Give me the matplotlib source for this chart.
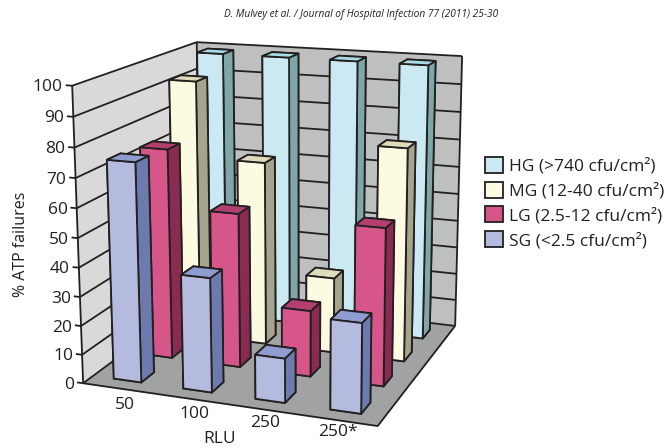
import numpy as np
import matplotlib as mpl
mpl.use('Agg')
import matplotlib.pyplot as plt
from matplotlib.patches import Patch
from mpl_toolkits.mplot3d import proj3d
from mpl_toolkits.mplot3d.art3d import Poly3DCollection, Line3DCollection

plt.rcParams['font.family'] = ['Open Sans', 'DejaVu Sans']

# values
categories = ['50', '100', '250', '250*']
series = ['SG (<2.5 cfu/cm²)', 'LG (2.5-12 cfu/cm²)', 'MG (12-40 cfu/cm²)', 'HG (>740 cfu/cm²)']
sg = [75, 39, 15, 30]
lg = [74, 54, 23, 54]
mg = [93, 66, 27, 75]
hg = [99, 99, 99, 99]
yticks = list(range(0, 101, 10))

# front, side, top colours for each series
colors = [('#b5bbde', '#6d7aad', '#8f9ccf'),
          ('#d6568a', '#8a2c52', '#b23f6f'),
          ('#fcfbe2', '#a5a48c', '#dfdcbc'),
          ('#cbe9f3', '#7fa7a8', '#a8dde5')]
ink = '#231f20'

# camera: box corners and where they land in the 666x448 picture
box = [(0, 0, 0), (0, 0, 100), (4, 0, 0), (0, 4, 0), (0, 4, 100), (4, 4, 0), (4, 4, 100)]
pix = [(83, 383), (72, 86), (378, 426), (201, 296), (197, 42), (455, 326), (462, 56)]


def camera():
    rows = []
    for (x, y, z), (u, v) in zip(box, pix):
        p = [x, y, z / 25, 1]
        rows.append(p + [0, 0, 0, 0] + [-u * c for c in p])
        rows.append([0, 0, 0, 0] + p + [-v * c for c in p])
    P = np.linalg.svd(np.array(rows, float))[2][-1].reshape(3, 4)
    P[:, 2] /= 25
    if P[2] @ [2, 2, 50, 1] < 0:
        P = -P
    return np.array([P[0], P[1], [0, 0, 0, -1], P[2]])


fig = plt.figure(figsize=(6.66, 4.48), dpi=100)
ax = fig.add_axes([0, 0, 1, 1], projection='3d', computed_zorder=False)
M = camera()
ax.get_proj = lambda: M
ax.apply_aspect = lambda position=None: None
ax.set_axis_off()


def wall(corners, color):
    ax.add_collection3d(Poly3DCollection([corners], facecolors=color, edgecolors='none', zorder=1))


def label(x, y, z, s, dy=0, **kw):
    # plain figure text placed where the camera puts this point
    u, v, _ = proj3d.proj_transform(x, y, z, M)
    fig.text(float(u) / 666, 1 - (float(v) + dy) / 448, s, va='center', fontsize=12.5, color=ink, **kw)


wall([(0, 0, 0), (0, 4, 0), (0, 4, 100), (0, 0, 100)], '#d9d9d9')
wall([(0, 4, 0), (4, 4, 0), (4, 4, 100), (0, 4, 100)], '#bebfbf')
wall([(0, 0, 0), (4, 0, 0), (4, 4, 0), (0, 4, 0)], '#a1a2a2')

segs = []
for t in yticks:
    segs.append([(-0.09, 0, t), (0, 0, t), (0, 4, t), (4, 4, t)])
    label(-0.13, 0, t, str(t), dy=2 + (100 - t) * 0.01, ha='right')
segs.append([(0, 0, 0), (0, 0, 100)])
segs.append([(0, 4, 0), (0, 4, 100)])
segs.append([(4, 4, 0), (4, 4, 100)])
segs.append([(0, 0, 0), (4, 0, 0), (4, 4, 0)])
ax.add_collection3d(Line3DCollection(segs, colors=ink, linewidths=1.3, zorder=2), autolim=False)

# back row first so the nearer bars cover it
z = 3
for j, values in reversed(list(enumerate([sg, lg, mg, hg]))):
    front, side, top = colors[j]
    for i, v in enumerate(values):
        ax.bar3d(i + 0.3, j + 0.3, 0, 0.4, 0.4, v, shade=False, edgecolor=ink, linewidth=1.3,
                 color=[top, top, front, side, side, side], zorder=z)
        z += 1

for i, c in enumerate(categories):
    label(0.85 + 0.92 * i, -0.5 + 0.05 * i, 0, c, ha='center')

fig.text(220 / 666, 1 - 439 / 448, 'RLU', ha='center', va='center', fontsize=12.5, color=ink)
fig.text(21 / 666, 1 - 244 / 448, '% ATP failures', ha='center', va='center', rotation=90,
         fontsize=11.5, color=ink)
fig.text(361 / 666, 1 - 15 / 448, 'D. Mulvey et al. / Journal of Hospital Infection 77 (2011) 25-30',
         ha='center', va='center', fontsize=7.3, style='italic', color=ink)

handles = [Patch(facecolor=colors[j][0], edgecolor=ink, lw=1.3) for j in [3, 2, 1, 0]]
fig.legend(handles, [series[j] for j in [3, 2, 1, 0]], loc='center left',
           bbox_to_anchor=(469 / 666, 1 - 203 / 448), frameon=False, fontsize=12.5,
           handlelength=1.03, handleheight=1.03, handletextpad=0.4, labelspacing=0.4,
           labelcolor=ink)

ax.viewLim.intervalx = (0, 666)
ax.viewLim.intervaly = (448, 0)
fig.savefig('out.png', dpi=100)
